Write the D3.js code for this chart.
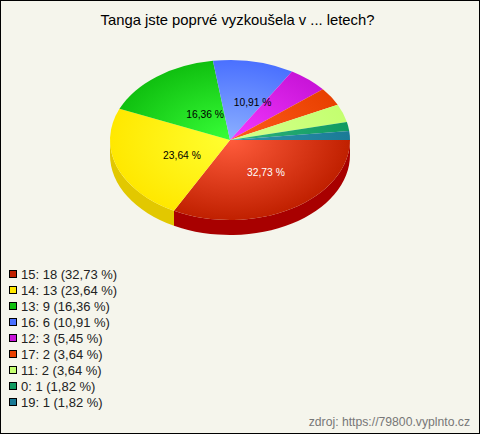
<!DOCTYPE html>
<html><head><meta charset="utf-8">
<script src="https://cdn.jsdelivr.net/npm/d3@7/dist/d3.min.js"></script>
<style>html,body{margin:0;padding:0;background:#f5f5ec}svg{display:block}text{font-family:"Liberation Sans",Arial,sans-serif}</style>
</head><body><svg id="c" width="480" height="434"></svg>
<script>
const categories=["15","14","13","16","12","17","11","0","19"];
const counts=[18,13,9,6,3,2,2,1,1];
const percents=["32,73","23,64","16,36","10,91","5,45","3,64","3,64","1,82","1,82"];
const baseColors=["#c02000","#ffe800","#10c010","#4a70ff","#c814d8","#e84000","#c4ff70","#109a60","#1a7a96"];
const lightColors=["#ff5c3c","#ffff30","#38ff38","#8cb0ff","#f438ff","#ff5c1c","#d4ff8c","#30b480","#3094ae"];
const sideColors=["#a80000","#e2c800"];
const labelFractions=[[.58,.48],[.425,.59],[.34,.41],[.95,.48]];
const title="Tanga jste poprvé vyzkoušela v ... letech?";
const source="zdroj: https://79800.vyplnto.cz";

const W=480,H=434,cx=230,cy=140,rx=120,ry=80,depth=15;
const svg=d3.select("#c");
svg.append("rect").attr("x",.5).attr("y",.5).attr("width",W-1).attr("height",H-1).attr("fill","#f5f5ec").attr("stroke","#000");
svg.append("text").attr("x",237.5).attr("y",25).attr("text-anchor","middle").attr("font-size",14.8).attr("fill","#000").text(title);

const data=counts.map((v,i)=>({v,i}));
const pie=d3.pie().value(d=>d.v).sort(null).startAngle(Math.PI/2).endAngle(Math.PI*2.5);
const arcs=pie(data);
const defs=svg.append("defs");
baseColors.forEach((c,i)=>{
  const g=defs.append("radialGradient").attr("id","g"+i).attr("gradientUnits","userSpaceOnUse")
    .attr("cx",0).attr("cy",0).attr("r",rx);
  g.append("stop").attr("offset","0").attr("stop-color",lightColors[i]);
  g.append("stop").attr("offset","1").attr("stop-color",c);
});
// side wall
const px=a=>cx+rx*Math.sin(a), py=a=>cy-ry*Math.cos(a);
arcs.slice(0,2).forEach((d,i)=>{
  const a0=d.startAngle, a1=Math.min(d.endAngle,Math.PI*1.5);
  svg.append("path").attr("fill",sideColors[i]).attr("d",
    `M${px(a0)},${py(a0)}A${rx},${ry} 0 0 1 ${px(a1)},${py(a1)}L${px(a1)},${py(a1)+depth}A${rx},${ry} 0 0 0 ${px(a0)},${py(a0)+depth}Z`);
});
const topFace=svg.append("g").attr("transform",`translate(${cx},${cy}) scale(1,${ry/rx})`);
const arc=d3.arc().innerRadius(0).outerRadius(rx);
topFace.selectAll("path").data(arcs).join("path").attr("d",arc).attr("fill",d=>`url(#g${d.data.i})`);
// labels
labelFractions.forEach((f,i)=>{
  const m=(arcs[i].startAngle+arcs[i].endAngle)/2;
  svg.append("text").attr("x",cx+rx*f[0]*Math.sin(m)).attr("y",cy-ry*f[1]*Math.cos(m)+3.5).attr("text-anchor","middle").attr("font-size",10.3)
    .attr("fill",i==0?"#fff":"#000").text(percents[i]+" %");
});
// legend
categories.forEach((c,i)=>{
  const y=274+i*16;
  svg.append("rect").attr("x",9.5).attr("y",y-3.5).attr("width",7).attr("height",7).attr("fill",baseColors[i]).attr("stroke","#000");
  svg.append("text").attr("x",21).attr("y",y+5).attr("font-size",13).attr("fill","#222").text(`${c}: ${counts[i]} (${percents[i]} %)`);
});
svg.append("text").attr("x",470).attr("y",426).attr("text-anchor","end").attr("font-size",12.2).attr("fill","#777").text(source);
</script></body></html>
